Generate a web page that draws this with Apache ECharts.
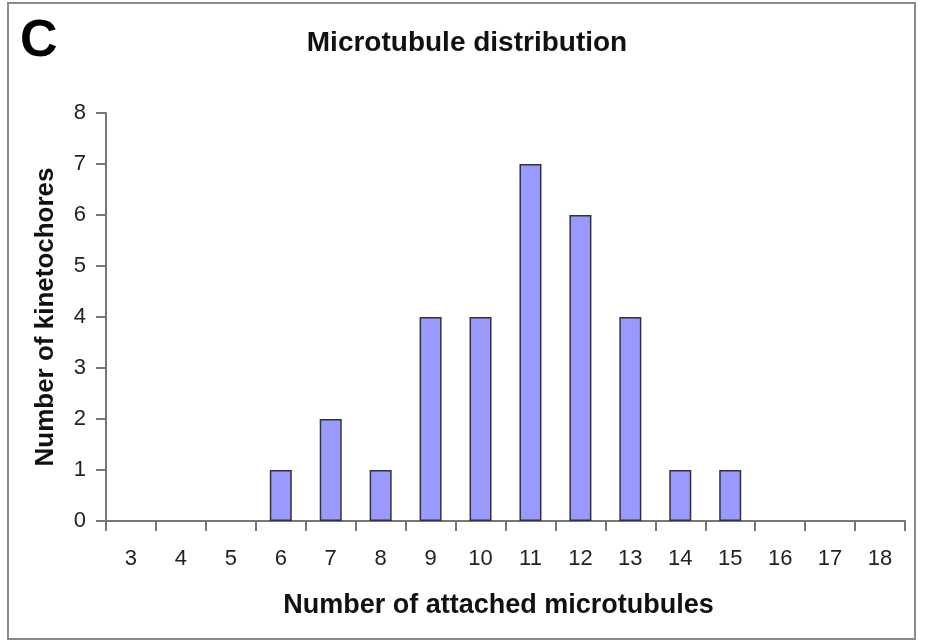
<!DOCTYPE html>
<html><head><meta charset="utf-8">
<script src="https://cdn.jsdelivr.net/npm/echarts@6/dist/echarts.min.js"></script>
<style>html,body{margin:0;padding:0;background:#fff}#c{width:926px;height:642px}</style>
</head><body><div id="c"></div>
<script>
const categories = ['3','4','5','6','7','8','9','10','11','12','13','14','15','16','17','18'];
const kinetochores = [0,0,0,1,2,1,4,4,7,6,4,1,1,0,0,0];
const yTicks = [0,1,2,3,4,5,6,7,8];
const FONT = '"Liberation Sans", Arial, sans-serif';

const chart = echarts.init(document.getElementById('c'));
chart.setOption({
  animation:false,
  backgroundColor:'#fff',
  graphic:[
    {type:'rect',shape:{x:8,y:3,width:907,height:636},style:{fill:'none',stroke:'#8a8a8a',lineWidth:2}},
    {type:'text',x:20,y:16,style:{text:'C',font:'bold 52px '+FONT,fill:'#000'}},
    {type:'text',x:467,y:29,style:{text:'Microtubule distribution',font:'bold 28px '+FONT,fill:'#111',textAlign:'center'}}
  ],
  grid:{left:106,right:21,top:113,bottom:121},
  xAxis:{type:'category',data:categories,
    name:'Number of attached microtubules',nameLocation:'middle',nameGap:71,
    nameTextStyle:{fontFamily:FONT,fontSize:27,fontWeight:'bold',color:'#111',padding:[0,14,0,0]},
    axisLine:{lineStyle:{color:'#777',width:2}},
    axisTick:{show:true,length:10,lineStyle:{color:'#777',width:2}},
    axisLabel:{margin:27,fontFamily:FONT,fontSize:22,color:'#222'}},
  yAxis:{type:'value',min:0,max:8,interval:1,
    name:'Number of kinetochores',nameLocation:'middle',nameGap:47,
    nameTextStyle:{fontFamily:FONT,fontSize:26,fontWeight:'bold',color:'#111'},
    axisLine:{show:true,lineStyle:{color:'#777',width:2}},
    axisTick:{show:true,length:10,lineStyle:{color:'#777',width:2}},
    splitLine:{show:false},
    axisLabel:{margin:20,fontFamily:FONT,fontSize:22,color:'#222',
      formatter:v=>yTicks.includes(v)?String(v):''}},
  series:[{type:'bar',data:kinetochores.map(v=>v===0?'-':v),barWidth:22,
    itemStyle:{color:'#9999ff',borderColor:'#333',borderWidth:1.5}}]
});
</script></body></html>
